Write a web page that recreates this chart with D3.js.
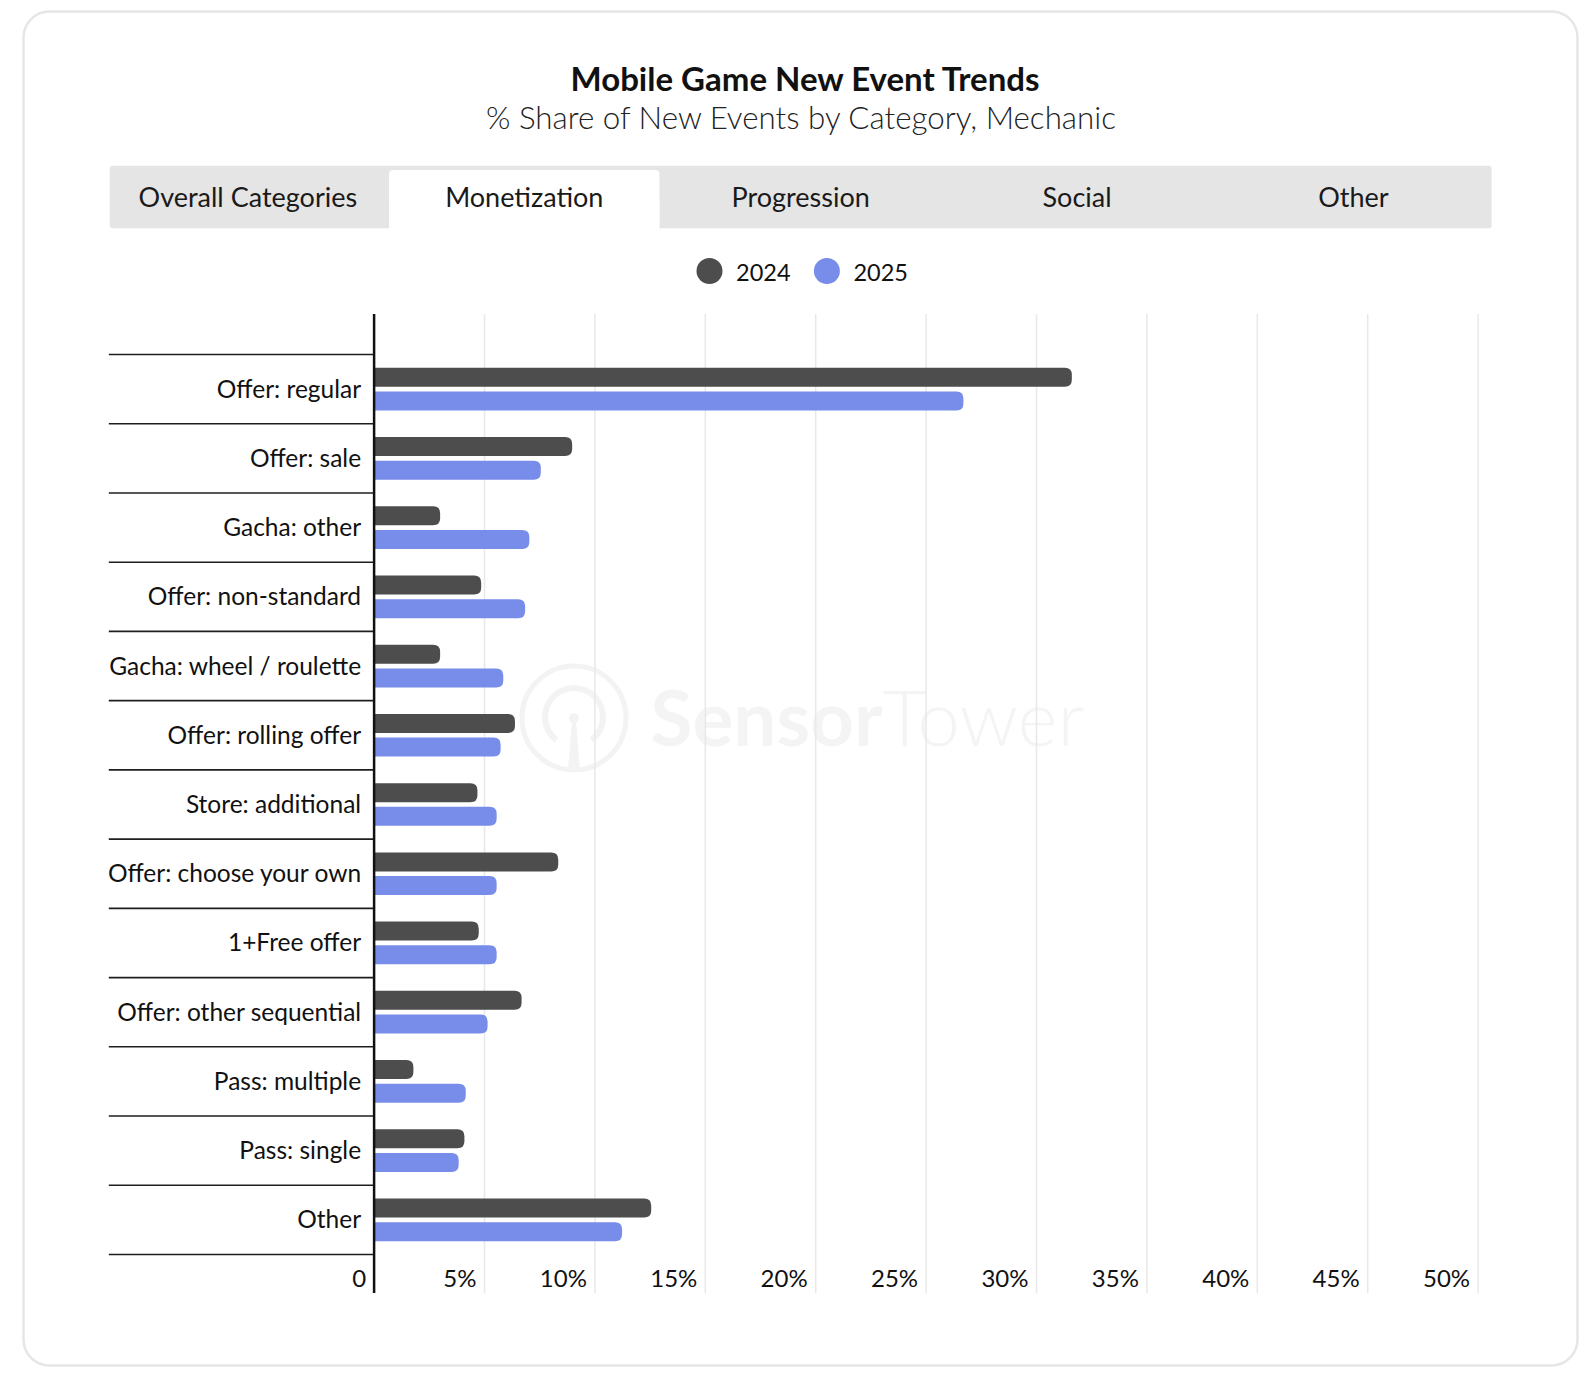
<!DOCTYPE html>
<html>
<head>
<meta charset="utf-8">
<script src="https://cdn.jsdelivr.net/npm/d3@7"></script>
<style>
  html, body { margin: 0; padding: 0; background: #ffffff; }
  svg { display: block; }
  text { font-family: Lato, "Open Sans", "Noto Sans", sans-serif; }
</style>
</head>
<body>
<svg id="chart" width="1594" height="1390"></svg>
<script>
// ---------------- data ----------------
const title = "Mobile Game New Event Trends";
const subtitle = "% Share of New Events by Category, Mechanic";
const tabs = ["Overall Categories", "Monetization", "Progression", "Social", "Other"];
const activeTab = "Monetization";
const seriesNames = ["2024", "2025"];
const categories = [
  "Offer: regular", "Offer: sale", "Gacha: other", "Offer: non-standard",
  "Gacha: wheel / roulette", "Offer: rolling offer", "Store: additional",
  "Offer: choose your own", "1+Free offer", "Offer: other sequential",
  "Pass: multiple", "Pass: single", "Other"
];
const values2024 = [31.6, 8.97, 2.99, 4.85, 2.99, 6.38, 4.68, 8.34, 4.74, 6.68, 1.78, 4.09, 12.55];
const values2025 = [26.69, 7.55, 7.03, 6.84, 5.85, 5.73, 5.55, 5.55, 5.55, 5.14, 4.15, 3.83, 11.23];
const xTicks = [0, 5, 10, 15, 20, 25, 30, 35, 40, 45, 50];

// ---------------- styles ----------------
const colors = { "2024": "#4d4d4d", "2025": "#788cea" };
const svg = d3.select("#chart");

// card
svg.append("rect")
  .attr("x", 23.5).attr("y", 11.5).attr("width", 1554).attr("height", 1354)
  .attr("rx", 26).attr("ry", 26)
  .attr("fill", "#fff").attr("stroke", "#e6e6e6").attr("stroke-width", 2.5);

// title
svg.append("text").attr("x", 805).attr("y", 91)
  .attr("text-anchor", "middle").attr("font-size", 33).attr("font-weight", 700)
  .attr("fill", "#111").text(title);
svg.append("text").attr("x", 801).attr("y", 129)
  .attr("text-anchor", "middle").attr("font-size", 31.3).attr("font-weight", 300)
  .attr("fill", "#222").text(subtitle);

// tabs
const tabX = d3.scaleBand().domain(tabs).range([109.7, 1491.6]);
svg.append("rect").attr("x", 109.7).attr("y", 165.7).attr("width", 1381.9).attr("height", 62.6)
  .attr("rx", 3).attr("fill", "#e5e5e5");
svg.append("rect")
  .attr("x", tabX(activeTab) + 3).attr("y", 170)
  .attr("width", tabX.bandwidth() - 6).attr("height", 58.3)
  .attr("rx", 4).attr("fill", "#ffffff");
svg.append("rect")
  .attr("x", tabX(activeTab) + 3).attr("y", 200)
  .attr("width", tabX.bandwidth() - 6).attr("height", 30)
  .attr("fill", "#ffffff");
svg.selectAll(".tab").data(tabs).enter().append("text")
  .attr("class", "tab")
  .attr("x", d => tabX(d) + tabX.bandwidth() / 2)
  .attr("y", 206.5)
  .attr("text-anchor", "middle").attr("font-size", 27).attr("fill", "#1a1a1a")
  .text(d => d);

// legend
const legendX = { "2024": 709.5, "2025": 826.9 };
seriesNames.forEach(s => {
  svg.append("circle").attr("cx", legendX[s]).attr("cy", 271).attr("r", 13).attr("fill", colors[s]);
  svg.append("text").attr("x", legendX[s] + 26.5).attr("y", 280.5)
    .attr("font-size", 23.5).attr("fill", "#111").text(s);
});

// scales
const x = d3.scaleLinear().domain([0, 50]).range([374.1, 1478.1]);
const y = d3.scaleBand().domain(categories).range([354.5, 1254.5]).paddingInner(0).paddingOuter(0);
const plotTop = 314, plotBottom = 1293;

// watermark
const wm = svg.append("g").attr("fill", "none").attr("stroke", "#f3f3f3");
wm.append("circle").attr("cx", 574).attr("cy", 718).attr("r", 52).attr("stroke-width", 5);
wm.append("path")
  .attr("d", d3.arc()({ innerRadius: 26, outerRadius: 32, startAngle: Math.PI + 0.65, endAngle: Math.PI * 3 - 0.65 }))
  .attr("transform", "translate(574,717)").attr("fill", "#f3f3f3").attr("stroke", "none");
wm.append("path").attr("d", "M572,720 L576,720 L580,770 L568,770 Z").attr("fill", "#f3f3f3").attr("stroke", "none");
wm.append("circle").attr("cx", 574).attr("cy", 718).attr("r", 5).attr("fill", "#f3f3f3").attr("stroke", "none");
const wmText = svg.append("text").attr("x", 650.6).attr("y", 746).attr("font-size", 76.5).attr("fill", "#f4f4f4");
wmText.append("tspan").attr("font-weight", 700).text("Sensor");
wmText.append("tspan").attr("font-weight", 300).text("Tower");

// gridlines
svg.append("g").selectAll("line").data(xTicks.filter(t => t > 0)).enter().append("line")
  .attr("x1", d => x(d)).attr("x2", d => x(d))
  .attr("y1", plotTop).attr("y2", plotBottom)
  .attr("stroke", "#e8e8e8").attr("stroke-width", 1.5);

// category separators
const bounds = categories.map(c => y(c)).concat([y(categories[categories.length - 1]) + y.bandwidth()]);
svg.append("g").selectAll("line").data(bounds).enter().append("line")
  .attr("x1", 108.8).attr("x2", x(0))
  .attr("y1", d => d).attr("y2", d => d)
  .attr("stroke", "#1e1e1e").attr("stroke-width", 1.6);

// bars
const barH = 19, gap = 4.7;
const offset0 = (y.bandwidth() - 2 * barH - gap) / 2;
function barPath(x0, x1, top, h) {
  const r = Math.min(7, (x1 - x0), h / 2);
  return `M${x0},${top} H${x1 - r} Q${x1},${top} ${x1},${top + r} V${top + h - r} Q${x1},${top + h} ${x1 - r},${top + h} H${x0} Z`;
}
const barData = [];
categories.forEach((c, i) => {
  barData.push({ c, s: "2024", v: values2024[i], k: 0 });
  barData.push({ c, s: "2025", v: values2025[i], k: 1 });
});
svg.append("g").selectAll("path").data(barData).enter().append("path")
  .attr("d", d => barPath(x(0), x(d.v), y(d.c) + offset0 + d.k * (barH + gap), barH))
  .attr("fill", d => colors[d.s]);

// category labels
svg.append("g").selectAll("text").data(categories).enter().append("text")
  .attr("x", x(0) - 13).attr("y", d => y(d) + y.bandwidth() / 2 + 8.5)
  .attr("text-anchor", "end").attr("font-size", 24.5).attr("fill", "#111")
  .text(d => d);

// x tick labels
svg.append("g").selectAll("text").data(xTicks).enter().append("text")
  .attr("x", d => x(d) - 8).attr("y", 1287)
  .attr("text-anchor", "end").attr("font-size", 24).attr("fill", "#111")
  .text(d => d === 0 ? "0" : d + "%");

// y axis line
svg.append("line").attr("x1", x(0)).attr("x2", x(0)).attr("y1", plotTop).attr("y2", plotBottom)
  .attr("stroke", "#111").attr("stroke-width", 2.5);
</script>
</body>
</html>
